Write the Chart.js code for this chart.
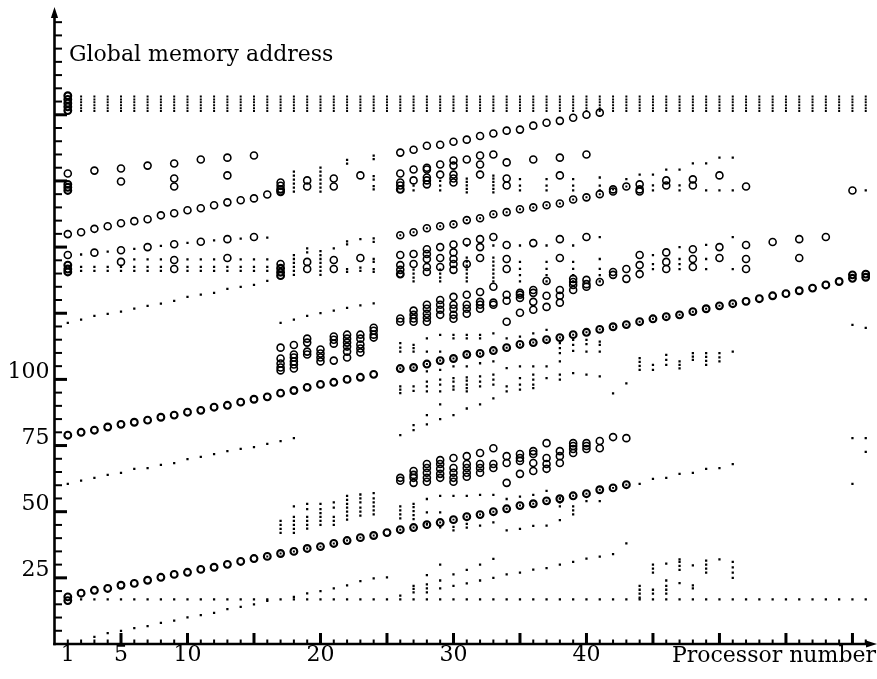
<!DOCTYPE html>
<html><head><meta charset="utf-8">
<script src="https://cdn.jsdelivr.net/npm/chart.js@4"></script>
<style>html,body{margin:0;padding:0;background:#fff;}canvas{display:block;}</style>
</head><body>
<canvas id="c" width="877" height="679"></canvas>
<script>
// ---------- texts and ticks ----------
const xTitle = 'Processor number';
const yTitle = 'Global memory address';
const processorTicks = [1, 5, 10, 20, 30, 40];
const addressTicks = [25, 50, 75, 100];

// ---------- circle lines: one value per processor, from a start processor ----------
const lowerCircleStart = 1;
const lowerCircles = [17.8,19.2,20.3,21,22.2,22.9,24.1,25.2,26.3,27.1,28.2,29,30.1,31.2,32.3,33.1,34.2,35,36.1,36.8,38,39.1,40.2,41,42.1,43.2,44,45.1,45.9,47,48.1,48.9,50,51.1,52.3,53,54.1,54.9,56,56.8,58.3,59,60.2];
const middleCircleStart = 1;
const middleCircles = [78.9,80,80.8,82,83,83.8,84.6,85.7,86.5,87.6,88.3,89.5,90.2,91.4,92.5,93.4,94.8,95.8,97,98.1,98.9,100,100.8,101.9,null,104.1,104.5,105.8,107.1,107.9,109.4,109.8,110.9,112,113.2,113.9,115,115.8,116.9,117.8,118.9,119.9,120.7,121.8,122.9,123.7,124.4,125.6,126.7,127.8,128.6,129.5,130.5,131.6,132.4,133.5,134.5,135.7,137,139.5,139.8];
const upperLeftStart = 1;
const upperLeftCircles = [154.9,155.6,156.9,157.9,159,159.8,160.5,162,162.8,163.9,164.7,165.8,166.9,167.7,168.4,169.9];
const upperRightStart = 26;
const upperRightCircles = [185.7,186.8,188.3,188.7,189.8,190.6,192,192.9,194,194.4,195.9,197,197.7,198.9,200,200.8];
const ringStart = 26;
const ringCircles = [154.5,155.6,157.1,157.9,158.6,160.2,160.9,162.4,163.2,164.3,165,165.8,166.5,168,168.8,170,171.8,172.9];

// ---------- circle stacks: [processor, [values]] ----------
const boldCircleStacks = [
  [1,[207.2,205.8,204.4,203,201.6]], [1,[173.7,172.6,171.4]], [1,[143.2,141.7,140.6]], [1,[16.4]],
  [17,[171.8,170.9]], [17,[142,140.5,139.2]], [26,[171.8,139.8]], [60,[138.2]], [61,[138.6]]
];
const circleStacks = [
  // upper band, left
  [1,[177.8]],[3,[178.9]],[5,[179.7,174.8]],[7,[180.8]],[9,[181.6,175.9,172.9]],[11,[183.1]],[13,[183.8,177.1]],[15,[184.6]],[17,[174.4,173.2]],[19,[175.2,172.9]],[21,[175.9,172.9]],[23,[177.1]],
  // middle band, left
  [1,[147]],[3,[147.9]],[5,[148.8,144.4]],[7,[150]],[9,[151.1,145.1,141.7]],[11,[152]],[13,[153,145.9]],[15,[153.8]],[17,[143.6]],[19,[144.4,141.7]],[21,[145.1,141.7]],[23,[145.9]],
  // clusters 17-24
  [17,[112,107.9,106,104.5,103.4]],[18,[113,109.4,108.3,106.8,105.6,104.1]],[19,[115.4,113.9,110.5,109.4]],[20,[111.3,109.8,108.3,106.8]],[21,[116.2,115,113.5,107.1]],[22,[116.9,115.4,113.9,112.4,110.5,108.3]],[23,[116.9,115.4,113.2,111.7,110.2]],[24,[119.5,118.4,116.9,115.8]],
  // upper band, right
  [26,[177.8,174.4,173.3]],[27,[179.3,175.2]],[28,[180,179.3,176.3,175.2,173.7]],[29,[181.2,177.4]],[30,[182.7,180.8,177.4,175.9,174.4]],[31,[183.1]],[32,[184.6,181.2,177.4]],[33,[185]],[34,[182,175.9,173.3]],[36,[183.1]],[38,[183.8,177.1]],[40,[185]],[42,[171]],[44,[173.7,171.8,171]],[46,[175.2,173.3]],[48,[175.6,173.3]],[50,[177.1]],[52,[172.9]],[60,[171.4]],
  // middle band, right
  [26,[147,143.2,141.4]],[27,[147.4,143.6]],[28,[149.2,147.4,145.5,142.5,140.6]],[29,[150,145.9,142.5]],[30,[151,148,145.5,143.6,141.4]],[31,[151.9,143.6]],[32,[153,150,145.9]],[33,[153.8]],[34,[150.8,145.5,141.7]],[36,[151.5]],[38,[153,145.9]],[40,[153.8]],[42,[140.6,139.5]],[43,[141.7,138]],[44,[147,143.2,139.8]],[46,[148,144.4,141.7]],[48,[149.2,145.5,142.5]],[50,[150,145.9]],[52,[150.8,145.5,141.7]],[54,[151.9]],[56,[153,145.9]],[58,[153.8]],
  // band 120-140, right
  [26,[123,121.8]],[27,[126,124.4,123,121.8]],[28,[128.2,126.7,124.8,123.3,121.8]],[29,[130,128.2,126.3,124.4]],[30,[131.2,128.2,126.7,124.4,122.9]],[31,[132,128.2,126.7,124.8]],[32,[133,129.3,128.2,126.7]],[33,[135,129,128.2]],[34,[132,129.7,121.8]],[35,[132.7,132,130.8,125.2]],[36,[133.8,132.7,129.3,126.3]],[37,[137.2,131.6,127.4]],[38,[133.8,131.6,129]],[39,[138,136.8,135.7,133.8]],[40,[137.6,136,135]],[41,[136.8]],
  // band 60-78, right
  [26,[62.8,61.7]],[27,[65.4,63.9,62.8,60.9]],[28,[68,66.5,64.7,62.8,61.3]],[29,[69.5,68,66.2,64.3,62.8]],[30,[70.3,66.5,64.7,62.8,61.3]],[31,[71,68,66.5,64.7,63.2]],[32,[72.2,68,66.5,64.7]],[33,[74,68,66.5]],[34,[71,68.4,60.9]],[35,[71.8,70.3,69.2,64.3]],[36,[72.9,71.8,68.4,65.4]],[37,[75.9,70.3,68,66.2]],[38,[72.9,71,68.4]],[39,[75.9,74.8,73.7,72.2]],[40,[75.9,74.8,73.7]],[41,[76.7,74]],[42,[78.2]],[43,[77.8]]
];

// ---------- dot lines ----------
const lowDotStart = 1;
const lowDots = [60.5,61.7,62.8,63.9,64.7,66.2,66.5,67.7,68.4,69.9,70.7,71.8,72.9,73.7,74.4,75.6,76.7,77.8];
const highDotStart = 1;
const highDots = [121.4,122.6,124,124.8,125.6,126.7,127.8,128.6,129.7,131.2,132,132.7,134.2,135,135.7,137.2];
const highDot2Start = 17;
const highDots2 = [121.4,122.6,124,125,126,127,128,128.7];
const bottomDotStart = 3;
const bottomDots = [2.7,4.1,5,6,6.8,8,8.8,10.1,10.9,11.8,13.2,14,15,16.3,null,17.8,19.1,20,21,22.2,23.8,24.8];
const baseRowProcessors = [2, 61];
const baseRowValue = 16.9;
const topDashProcessors = [2, 61];
const topDashValues = [201.4,202.5,203.6,204.7,205.8,206.9];

// ---------- dot stacks: [processor, [values]] ----------
const dotStacks = [
  [17,[42,43.5,45,46.5]],[18,[42,43.5,45,46.5,48,52]],[19,[43.6,45,46.5,48,51,53]],[20,[45,46.5,48,49.5,51,53]],[21,[45,46.5,48,51.5,53.5]],[22,[47,48.5,50,51.5,53,54.5,56]],[23,[48.5,50,51.5,53.5,55,56.5]],[24,[49,50.5,52,53.5,55,57]],
  [25,[25.2]],[26,[18.3]],[27,[19.5,20.8,22]],[28,[19.5,21,22.5,26]],[29,[21,24,30]],[30,[22,26.3]],[31,[22.9,28]],[32,[24,30]],[33,[25,32.2]],[34,[26.3]],[35,[27]],[36,[28.1]],[37,[28.7]],[38,[30]],[39,[31]],[40,[32.3]],[41,[33]],[42,[34]],[43,[38]],
  [44,[17.5,19,20.5,22]],[45,[19,20.5,27,28.5,30]],[46,[19,20.5,22,24,30.4]],[47,[23,28,29.5,31,32]],[48,[21,22.2,29.7]],[49,[27,28.5,30,31.5]],[50,[32]],[51,[25,27,29,31]],
  [26,[47.5,49,50.5,52]],[27,[47.2,48.7,50.2,51.7,53]],[28,[45.5,49.7,54.8]],[29,[44.1,49.7,56]],[30,[42.9,44.3,56]],[31,[44,45.4,56]],[32,[44.7,56.4]],[33,[46,56.4]],[34,[42.9,54.8]],[35,[43.5,55.7]],[36,[44.6,56.4]],[37,[44.7,57.9]],[38,[46.8,52,53.5,55]],[39,[49,50.5,52]],[40,[54]],[41,[54]],
  [44,[60.5]],[45,[62.4]],[46,[62.8]],[47,[64.3]],[48,[64.7]],[49,[66.2]],[50,[66.5]],[51,[68]],
  [26,[113.7,112,110.5,97.4,96.1,94.8,78.9]],[27,[113,111.8,110.5,97.4,95.7,82.7,80.8]],[28,[115.5,110.5,103,99.2,97.4,95.5,86.5,83]],[29,[116.8,110.5,103.6,99.9,98,95.5,90.6,85]],[30,[116.8,115.5,104.9,100.5,99.2,97.4,96.1,86.5]],[31,[116.8,115.5,104.9,100.8,99.5,98,96.7,95.5,89]],[32,[116.8,115.5,106.1,101.1,99.2,97.4,90.6]],[33,[117.4,106.8,101.8,99.9,98,92.8]],[34,[115.5,104.3,97.4,95.5]],[35,[116.2,104.9,100.5,98,96.1]],[36,[117.4,104.9,101.8,99.9,98,96.7]],[37,[118.7,104.9,100.5]],[38,[113.7,111.8,109.9,106.8,101.8,99.9]],[39,[114.9,113,110.8,102.4]],[40,[114.9,113.3,110.5,101.8]],[41,[114.3,113,110.5,101.1]],[42,[94.7]],[43,[98.5]],
  [44,[103.6,105.1,106.6,108]],[45,[103.6,105.5]],[46,[105.5,107.4,109.3]],[47,[104.2,105.5,106.8]],[48,[107.4,108.6,109.9]],[49,[105.5,107,108.5,109.9]],[50,[106.8,108.3,109.9]],[51,[110.5]],
  [60,[120.6,77.8,60.5]],[61,[119.5,77.8,72.6]],
  [2,[141,142.5,147.2]],[3,[141,142.5]],[4,[141,142.5,148.3]],[5,[141,142.5]],[6,[141,142.5,145.4,149.3]],[7,[141,142.5,145.4]],[8,[141,142.5,145.4,150.5]],[10,[141,142.5,145.4,151.6]],[11,[141,142.5,145.4]],[12,[141,142.5,145.4,152.5]],[13,[141,142.5]],[14,[141,142.5,145.4,153.2]],[15,[141,142.5,145.4]],[16,[141,142.5,145.4,153.6]],
  [18,[171,172.5,174,175.5,177,178.5,139.5,141,142.5,144,145.5,147]],[19,[148,149.5]],[20,[171,172.5,174,175.5,177,178.5,180,139.5,141,142.5,144,145.5,147,148.5]],[21,[149.5]],[22,[181.5,183,151,152.2,140.6,141.7]],[23,[153,141,142.2]],[24,[183.2,184.6,175.5,176.8,171.8,173,152,153.3,144.4,145.5,140.6,141.7]],
  [27,[171.4,173.2,137,138.5,140,141.5]],[29,[171.4,173.2,175,137,138.5,140,141.5]],[31,[170.7,172,173.3,174.6,175.9,137,138.5,140,141.5,143,144.5,146,150.6]],[33,[170.7,172,173.3,174.6,175.9,177,137,138.5,140,141.5,143,144.5,146,150.6]],
  [35,[171.4,173.2,175.7,137,139.4,141.8,144.4,150.6]],[37,[171.4,173.2,175.7,137,139.4,141.8,144.4,150.6]],[39,[171.4,173.2,175.7,137,139.4,141.8,144.4,150.6]],[41,[171.4,173.2,176.3,137,139.4,141.8,145.5,153.8]],[43,[175.7]],
  [44,[177.4]],[45,[177.4,173.3,171.4,147,143.6,141.7]],[46,[179.3]],[47,[179.3,173.3,171.4,150,145.5,143.6,141.7]],[48,[181.6]],[49,[181.6,171.4,150.8,145.5,141.7]],[50,[183.8,171.4]],[51,[183.8,171.4,153.8,141.7]],[61,[171.4]]
];

// ---------- builders ----------
function fromLine(start, values) {
  const out = [];
  values.forEach((v, i) => { if (v !== null) out.push({ x: start + i, y: v }); });
  return out;
}
function fromStacks(stacks) {
  const out = [];
  stacks.forEach(([p, vs]) => vs.forEach(v => out.push({ x: p, y: v })));
  return out;
}
function fromRange(range, values) {
  const out = [];
  for (let p = range[0]; p <= range[1]; p++) values.forEach(v => out.push({ x: p, y: v }));
  return out;
}

const lowerPts = fromLine(lowerCircleStart, lowerCircles);
const middlePts = fromLine(middleCircleStart, middleCircles);
const ringPts = fromLine(ringStart, ringCircles);
const centerDots = []
  .concat(lowerPts.filter(p => p.x >= 16 && p.x !== 25))
  .concat(middlePts.filter(p => p.x >= 26 && p.x <= 51))
  .concat(ringPts);

const boldCircle = { pointStyle: 'circle', pointRadius: 3.4, pointBorderWidth: 2.1, pointBorderColor: '#000', pointBackgroundColor: 'rgba(0,0,0,0)' };
const lightCircle = { pointStyle: 'circle', pointRadius: 3.5, pointBorderWidth: 1.6, pointBorderColor: '#000', pointBackgroundColor: 'rgba(0,0,0,0)' };
const dot = { pointStyle: 'rect', pointRadius: 1.6, pointBorderWidth: 0, pointBackgroundColor: '#000', pointBorderColor: '#000' };
const smallDot = { pointStyle: 'rect', pointRadius: 1.4, pointBorderWidth: 0, pointBackgroundColor: '#000', pointBorderColor: '#000' };

const datasets = [
  Object.assign({ data: lowerPts }, boldCircle),
  Object.assign({ data: middlePts }, boldCircle),
  Object.assign({ data: fromStacks(boldCircleStacks) }, boldCircle),
  Object.assign({ data: fromLine(upperLeftStart, upperLeftCircles) }, lightCircle),
  Object.assign({ data: fromLine(upperRightStart, upperRightCircles) }, lightCircle),
  Object.assign({ data: ringPts }, lightCircle),
  Object.assign({ data: fromStacks(circleStacks) }, lightCircle),
  Object.assign({ data: centerDots }, smallDot),
  Object.assign({ data: fromLine(lowDotStart, lowDots) }, dot),
  Object.assign({ data: fromLine(highDotStart, highDots) }, dot),
  Object.assign({ data: fromLine(highDot2Start, highDots2) }, dot),
  Object.assign({ data: fromLine(bottomDotStart, bottomDots) }, dot),
  Object.assign({ data: fromRange(baseRowProcessors, [baseRowValue]) }, dot),
  Object.assign({ data: fromRange(topDashProcessors, topDashValues) }, smallDot),
  Object.assign({ data: fromStacks(dotStacks) }, dot)
];

const axisPlugin = {
  id: 'paperAxes',
  afterDraw(chart) {
    const { ctx, scales: { x, y } } = chart;
    const x0 = x.getPixelForValue(0);
    const y0 = y.getPixelForValue(0);
    ctx.save();
    ctx.strokeStyle = '#000'; ctx.fillStyle = '#000';
    ctx.lineWidth = 2.6;
    ctx.beginPath(); ctx.moveTo(x0, y0 + 1.3); ctx.lineTo(x0, 16); ctx.stroke();
    ctx.beginPath(); ctx.moveTo(x0 - 1.3, y0); ctx.lineTo(868, y0); ctx.stroke();
    ctx.beginPath(); ctx.moveTo(x0, 7); ctx.lineTo(x0 - 3.6, 18); ctx.lineTo(x0 + 3.6, 18); ctx.closePath(); ctx.fill();
    ctx.beginPath(); ctx.moveTo(877, y0); ctx.lineTo(866, y0 - 3.6); ctx.lineTo(866, y0 + 3.6); ctx.closePath(); ctx.fill();
    for (let v = 5; v <= 235; v += 5) {
      const py = y.getPixelForValue(v);
      const major = v % 25 === 0 && v <= 200;
      ctx.lineWidth = major ? 3 : 2;
      ctx.beginPath(); ctx.moveTo(x0, py); ctx.lineTo(x0 + (major ? 12.5 : 7.5), py); ctx.stroke();
    }
    for (let p = 1; p <= 61; p++) {
      const px = x.getPixelForValue(p);
      const major = p % 5 === 0;
      ctx.lineWidth = major ? 3 : 2;
      ctx.beginPath(); ctx.moveTo(px, y0); ctx.lineTo(px, y0 - (major ? 11 : 4.5)); ctx.stroke();
    }
    ctx.font = '22px "DejaVu Serif"';
    ctx.textBaseline = 'alphabetic';
    ctx.textAlign = 'left';
    ctx.fillText(yTitle, 69, 61);
    ctx.textAlign = 'right';
    ctx.fillText(xTitle, 876, 662);
    ctx.restore();
  }
};

const tickFont = { family: 'DejaVu Serif', size: 22 };
new Chart(document.getElementById('c'), {
  type: 'scatter',
  data: { datasets },
  options: {
    responsive: false, devicePixelRatio: 1, animation: false, events: [],
    layout: { padding: { top: 15, right: 7, left: 0, bottom: 0 } },
    plugins: { legend: { display: false }, tooltip: { enabled: false } },
    scales: {
      x: {
        type: 'linear', min: 0, max: 61.32,
        afterBuildTicks: s => { s.ticks = processorTicks.map(v => ({ value: v })); },
        afterFit: s => { s.height = 35; },
        grid: { display: false, drawTicks: false }, border: { display: false },
        ticks: { font: tickFont, color: '#000', padding: -2, maxRotation: 0, autoSkip: false }
      },
      y: {
        type: 'linear', min: 0, max: 236.5,
        afterBuildTicks: s => { s.ticks = addressTicks.map(v => ({ value: v })); },
        afterFit: s => { s.width = 54.5; },
        grid: { display: false, drawTicks: false }, border: { display: false },
        ticks: { font: tickFont, color: '#000', padding: 5, labelOffset: -7.5, autoSkip: false }
      }
    }
  },
  plugins: [axisPlugin]
});
</script>
</body></html>
